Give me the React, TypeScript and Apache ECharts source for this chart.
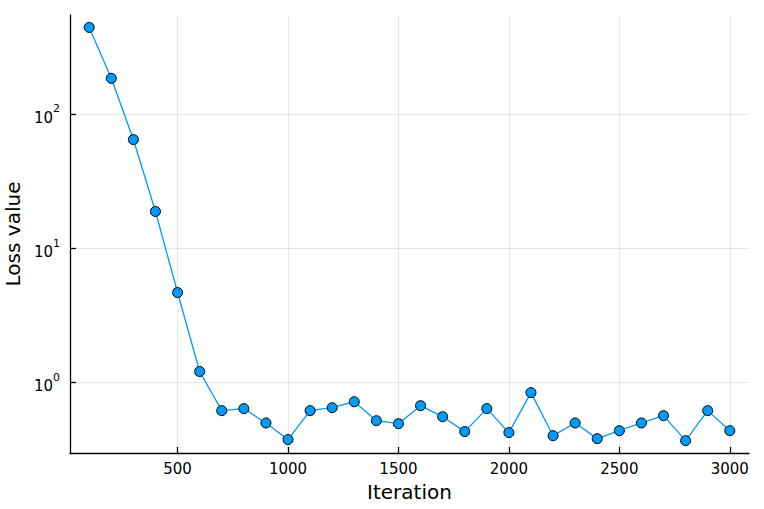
import React, { useEffect, useRef } from "react";
import * as echarts from "echarts";

const iterations = [100, 200, 300, 400, 500, 600, 700, 800, 900, 1000, 1100, 1200, 1300, 1400, 1500, 1600, 1700, 1800, 1900, 2000, 2100, 2200, 2300, 2400, 2500, 2600, 2700, 2800, 2900, 3000];
const lossValues = [446, 186, 65, 18.9, 4.7, 1.21, 0.618, 0.64, 0.5, 0.376, 0.618, 0.65, 0.72, 0.52, 0.494, 0.673, 0.557, 0.431, 0.64, 0.424, 0.842, 0.402, 0.5, 0.382, 0.438, 0.5, 0.567, 0.369, 0.618, 0.438];
const xTicks = [500, 1000, 1500, 2000, 2500, 3000];
const yTickExponents = [0, 1, 2];

const FONT = "DejaVu Sans";

export default function App() {
  const ref = useRef<HTMLDivElement>(null);
  useEffect(() => {
    if (!ref.current) return;
    const chart = echarts.init(ref.current, null, { renderer: "svg" });
    const data = iterations.map((x, i) => [x, Math.log10(lossValues[i])]);
    chart.setOption({
      animation: false,
      backgroundColor: "#ffffff",
      grid: { left: 70, right: 15, top: 15, bottom: 56, containLabel: false, outerBoundsMode: "none" },
      xAxis: {
        type: "value",
        min: 13,
        max: 3087,
        name: "Iteration",
        nameLocation: "middle",
        nameGap: 29,
        nameTextStyle: { fontFamily: FONT, fontSize: 20, color: "#000" },
        axisLine: { show: true, onZero: false, lineStyle: { color: "#000", width: 1.3 } },
        axisTick: { show: true, inside: true, length: 6, customValues: xTicks, lineStyle: { color: "#000", width: 1.3 } },
        axisLabel: { customValues: xTicks, margin: 8, fontFamily: FONT, fontSize: 15, color: "#000", formatter: (v: number) => String(v) },
        splitLine: { show: true, lineStyle: { color: "rgba(0,0,0,0.09)", width: 1 } },
      },
      yAxis: {
        type: "value",
        min: -0.525,
        max: 2.742,
        name: "Loss value",
        nameLocation: "middle",
        nameGap: 45,
        nameTextStyle: { fontFamily: FONT, fontSize: 20, color: "#000" },
        axisLine: { show: true, onZero: false, lineStyle: { color: "#000", width: 1.3 } },
        axisTick: { show: true, inside: true, length: 6, customValues: yTickExponents, lineStyle: { color: "#000", width: 1.3 } },
        axisLabel: {
          customValues: yTickExponents,
          margin: 10,
          fontFamily: FONT,
          color: "#000",
          formatter: (v: number) => `{a|10}{b|${Math.round(v)}}`,
          rich: {
            a: { fontFamily: FONT, fontSize: 15, color: "#000", lineHeight: 22, verticalAlign: "bottom" },
            b: { fontFamily: FONT, fontSize: 11, color: "#000", lineHeight: 22, verticalAlign: "top" },
          },
        },
        splitLine: { show: true, lineStyle: { color: "rgba(0,0,0,0.09)", width: 1 } },
      },
      series: [
        {
          type: "line",
          data,
          symbol: "circle",
          symbolSize: 10,
          lineStyle: { color: "#009AFA", width: 1.3 },
          itemStyle: { color: "#009AFA", borderColor: "#000", borderWidth: 1 },
        },
      ],
    });
    return () => chart.dispose();
  }, []);
  return <div ref={ref} style={{ width: 764, height: 509, position: "absolute", left: 0, top: 0 }} />;
}
